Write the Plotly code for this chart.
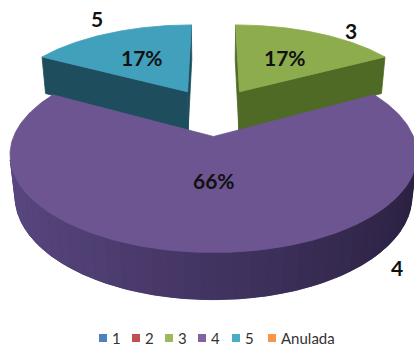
import numpy as np
import plotly.graph_objects as go

# Survey answers per option
categories = ["1", "2", "3", "4", "5", "Anulada"]
values = [0, 0, 17, 66, 17, 0]
legend_colors = ["#4F81BD", "#C0504D", "#9BBB59", "#8064A2", "#4BACC6", "#F79646"]
top_colors = ["#4F81BD", "#C0504D", "#8DAC4E", "#6C5591", "#41A0BC", "#F79646"]
face_colors = ["#2E4C70", "#72302E", "#4E6A25", "#3E3058", "#1E4E5D", "#93592A"]
wall_light = ["#3A5E8A", "#8A3C39", "#5E7C30", "#5A4882", "#2A6272", "#AD6B33"]
wall_dark = ["#22385A", "#55221F", "#38491A", "#2A2040", "#143A46", "#6E411E"]

W, H_PX = 414, 349

# 3-D pie geometry (unit radius, perspective camera)
ELEV = 0.5071
CAM_DIST = 5.0328
FOCAL = 933.83
CX, CY = 213.5, 151.34
THICK = 0.2402
PULL = 0.2797
cam = np.array([0.0, CAM_DIST * np.sin(ELEV), -CAM_DIST * np.cos(ELEV)])


def project(x, y, z):
    x, y, z = np.asarray(x, float), np.asarray(y, float), np.asarray(z, float)
    depth = CAM_DIST + z * np.cos(ELEV) - y * np.sin(ELEV)
    yc = y * np.cos(ELEV) + z * np.sin(ELEV)
    return CX + FOCAL * x / depth, CY - FOCAL * yc / depth


def visible(normal, point):
    return float(np.dot(normal, cam - np.asarray(point))) > 0


def poly(fig, xs, ys, color, lw=0.8):
    fig.add_trace(go.Scatter(
        x=list(xs) + [xs[0]], y=list(ys) + [ys[0]], mode="lines",
        fill="toself", fillcolor=color, line=dict(color=color, width=lw),
        hoverinfo="skip", showlegend=False))


def mix(c1, c2, t):
    a = np.array([int(c1[i:i + 2], 16) for i in (1, 3, 5)], float)
    b = np.array([int(c2[i:i + 2], 16) for i in (1, 3, 5)], float)
    c = a + (b - a) * t
    return "#%02x%02x%02x" % tuple(int(round(v)) for v in c)


total = sum(values)
bounds = np.concatenate([[0], np.cumsum(values)]) / total * 2 * np.pi

slices = []
for i, v in enumerate(values):
    if v <= 0:
        continue
    a0, a1 = bounds[i], bounds[i + 1]
    mid = (a0 + a1) / 2
    ox, oz = PULL * np.sin(mid), PULL * np.cos(mid)
    slices.append(dict(i=i, a0=a0, a1=a1, mid=mid, ox=ox, oz=oz))

# paint back slices first
slices.sort(key=lambda s: -s["oz"])

fig = go.Figure()

for s in slices:
    i, a0, a1, ox, oz = s["i"], s["a0"], s["a1"], s["ox"], s["oz"]
    ts = np.linspace(a0, a1, 241)
    rx, rz = ox + np.sin(ts), oz + np.cos(ts)

    # curved outer wall: base fill first, then shaded bands on top
    seen = []
    for k in range(len(ts) - 1):
        tm = (ts[k] + ts[k + 1]) / 2
        n = np.array([np.sin(tm), 0.0, np.cos(tm)])
        p = np.array([ox + np.sin(tm), THICK / 2, oz + np.cos(tm)])
        seen.append(visible(n, p))
    idx = [k for k, ok in enumerate(seen) if ok]
    if idx:
        k0, k1 = idx[0], idx[-1] + 1
        wx = np.concatenate([rx[k0:k1 + 1], rx[k0:k1 + 1][::-1]])
        wz = np.concatenate([rz[k0:k1 + 1], rz[k0:k1 + 1][::-1]])
        wy = np.concatenate([np.full(k1 - k0 + 1, THICK), np.zeros(k1 - k0 + 1)])
        sx, sy = project(wx, wy, wz)
        poly(fig, sx, sy, face_colors[i])
        step = 4
        for k in range(k0, k1, step):
            ke = min(k + step, k1)
            tm = (ts[k] + ts[ke]) / 2
            xs = [rx[k], rx[ke], rx[ke], rx[k]]
            zs = [rz[k], rz[ke], rz[ke], rz[k]]
            sx, sy = project(xs, [THICK, THICK, 0, 0], zs)
            shade = np.clip((np.sin(tm) + 1) / 2, 0, 1)
            col = mix(wall_light[i], wall_dark[i], shade)
            poly(fig, sx, sy, col, lw=0.6)

    # radial cut faces
    for ang, sign in ((a0, -1), (a1, 1)):
        n = sign * np.array([np.cos(ang), 0.0, -np.sin(ang)])
        p = np.array([ox + 0.5 * np.sin(ang), THICK / 2, oz + 0.5 * np.cos(ang)])
        if not visible(n, p):
            continue
        ex, ez = ox + np.sin(ang), oz + np.cos(ang)
        sx, sy = project([ox, ex, ex, ox], [THICK, THICK, 0, 0], [oz, ez, ez, oz])
        poly(fig, sx, sy, face_colors[i])

    # top surface
    sx, sy = project(np.concatenate([[ox], rx]), np.full(len(rx) + 1, THICK),
                     np.concatenate([[oz], rz]))
    poly(fig, sx, sy, top_colors[i])

label_font = dict(family="Lato", size=21, color="#111111", weight="bold")

# percentage labels on the top faces
pct_radius = {2: 0.55, 3: 0.425, 4: 0.55}
for s in slices:
    i = s["i"]
    r = pct_radius[i]
    px, py = project(s["ox"] + r * np.sin(s["mid"]), THICK, s["oz"] + r * np.cos(s["mid"]))
    fig.add_annotation(x=float(px), y=float(py), text=f"{values[i] / total * 100:.0f}%",
                       showarrow=False, font=label_font, xanchor="center", yanchor="middle")

# category labels outside the slices: (angle in degrees, radius, height)
cat_place = {2: (39.0, 1.16, THICK), 3: (133.7, 1.12, 0.0), 4: (331.0, 1.28, THICK)}
for s in slices:
    i = s["i"]
    ang, r, yh = cat_place[i]
    a = np.radians(ang)
    px, py = project(s["ox"] + r * np.sin(a), yh, s["oz"] + r * np.cos(a))
    fig.add_annotation(x=float(px), y=float(py), text=categories[i], showarrow=False,
                       font=label_font, xanchor="center", yanchor="middle")

# legend row
legend_x = [103, 136, 169, 202, 236, 272]
legend_y = 338
for k, cat in enumerate(categories):
    fig.add_trace(go.Scatter(x=[legend_x[k]], y=[legend_y], mode="markers",
                             marker=dict(symbol="square", size=8, color=legend_colors[k]),
                             hoverinfo="skip", showlegend=False))
    fig.add_annotation(x=legend_x[k] + 7, y=legend_y, text=cat, showarrow=False,
                       xanchor="left", yanchor="middle",
                       font=dict(family="Lato", size=15, color="#333333"))

fig.update_layout(
    width=W, height=H_PX, margin=dict(l=0, r=0, t=0, b=0),
    paper_bgcolor="white", plot_bgcolor="white", showlegend=False,
    xaxis=dict(range=[0, W], visible=False, fixedrange=True),
    yaxis=dict(range=[H_PX, 0], visible=False, fixedrange=True),
)

fig.write_html("out.html")
